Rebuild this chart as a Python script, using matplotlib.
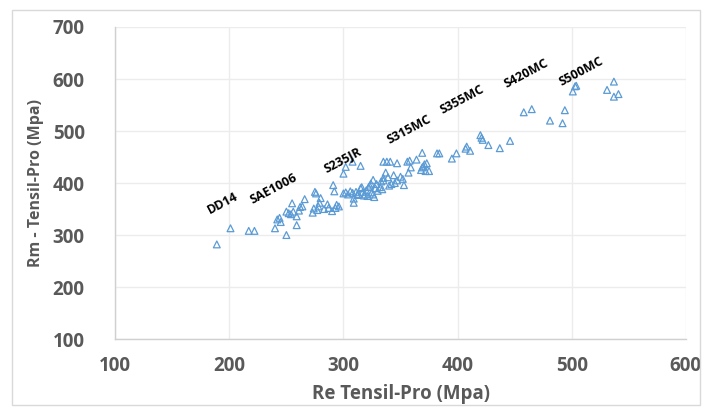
import matplotlib
matplotlib.use("Agg")
import matplotlib.pyplot as plt
from matplotlib.patches import Rectangle

# Re (yield) vs Rm (tensile), Mpa
re_vals = [189, 201, 217, 222, 240, 242, 245, 250, 259, 252, 254, 250, 255, 259,
           261, 264, 266, 273, 275, 276, 274, 277, 278, 279, 280, 286, 287, 291,
           292, 294, 293, 300, 302, 304, 306, 308, 311, 313, 315, 317, 319, 320,
           322, 324, 325, 326, 328, 330, 332, 334, 335, 309, 309, 326, 327, 300,
           302, 308, 315, 335, 338, 341, 347, 337, 339, 344, 347, 352, 353, 342,
           335, 356, 358, 359, 369, 369, 371, 373, 372, 375, 370, 382, 384, 395,
           399, 407, 408, 411, 420, 421, 422, 427, 437, 446, 458, 465, 481, 492,
           494, 501, 503, 504, 531, 537, 537, 541, 262, 256, 283, 290, 296, 318,
           321, 316, 323, 333, 340, 345, 350, 364, 368, 244, 312, 329, 357]
rm_vals = [282, 313, 308, 308, 313, 330, 325, 300, 319, 342, 340, 345, 361, 336,
           347, 355, 369, 343, 383, 380, 351, 348, 355, 362, 371, 359, 352, 396,
           384, 358, 352, 380, 382, 378, 384, 381, 383, 379, 390, 383, 378, 386,
           392, 399, 382, 406, 390, 385, 392, 388, 410, 370, 362, 378, 373, 418,
           431, 441, 433, 441, 441, 441, 438, 420, 411, 415, 405, 408, 396, 398,
           405, 441, 443, 430, 458, 430, 436, 438, 423, 423, 432, 457, 457, 447,
           457, 466, 470, 462, 492, 487, 483, 473, 467, 481, 536, 542, 520, 515,
           540, 576, 586, 587, 579, 595, 566, 571, 354, 345, 350, 346, 355, 376,
           375, 392, 395, 403, 395, 400, 412, 445, 425, 333, 377, 398, 420]

grade_names = ["DD14", "SAE1006", "S235JR", "S315MC", "S355MC", "S420MC", "S500MC"]
grade_x = [194, 239, 299, 357, 404, 460, 508]
grade_y = [361, 388, 444, 503, 560, 610, 614]

x_ticks = [100, 200, 300, 400, 500, 600]
y_ticks = [100, 200, 300, 400, 500, 600, 700]

plt.rcParams["font.family"] = ["Open Sans", "DejaVu Sans"]

fig = plt.figure(figsize=(7.07, 4.09), dpi=100)
ax = fig.add_axes([0.163, 0.171, 0.807, 0.763])

# light frame around the chart area
fig.patches.append(Rectangle((12 / 707, 4 / 409), 688 / 707, 395 / 409,
                             transform=fig.transFigure, fill=False,
                             edgecolor="#d9d9d9", linewidth=1.0))

ax.scatter(re_vals, rm_vals, marker="^", s=24, facecolors="none",
           edgecolors="#5b9bd5", linewidths=0.9, zorder=3)

for name, gx, gy in zip(grade_names, grade_x, grade_y):
    ax.text(gx, gy, name, rotation=28, ha="center", va="center",
            fontsize=9, fontweight="bold", color="black")

ax.set_xlim(100, 600)
ax.set_ylim(100, 700)
ax.set_xticks(x_ticks)
ax.set_yticks(y_ticks)
ax.grid(True, color="#ececec", linewidth=1.0, zorder=0)
ax.set_axisbelow(True)

for side in ["top", "right"]:
    ax.spines[side].set_visible(False)
for side in ["left", "bottom"]:
    ax.spines[side].set_color("#d0d0d0")
    ax.spines[side].set_linewidth(1.0)

ax.tick_params(length=0, labelsize=13.5, labelcolor="#595959")
ax.tick_params(axis="y", pad=22)
ax.tick_params(axis="x", pad=12)
for lab in ax.get_xticklabels() + ax.get_yticklabels():
    lab.set_fontweight("bold")

ax.set_xlabel("Re Tensil-Pro (Mpa)", fontsize=13.5, fontweight="bold",
              color="#595959", labelpad=6)
ax.set_ylabel("Rm - Tensil-Pro (Mpa)", fontsize=11.5, fontweight="bold",
              color="#595959", labelpad=6)

fig.savefig("out.png", dpi=100)
